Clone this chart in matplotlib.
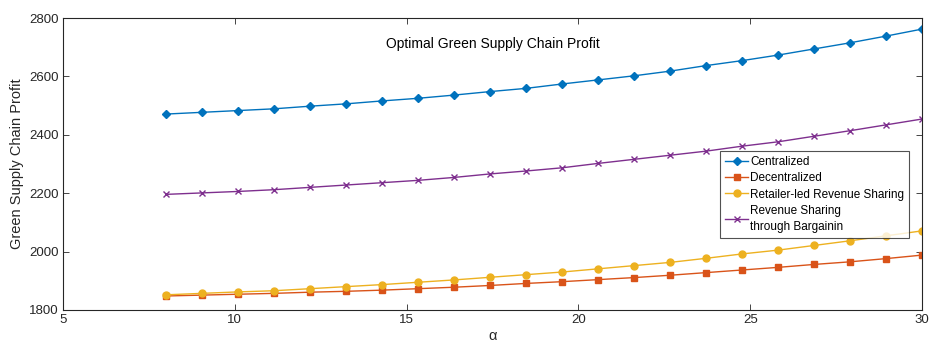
import numpy as np
import matplotlib
matplotlib.use("Agg")
import matplotlib.pyplot as plt

plt.rcParams['font.family'] = ['Liberation Sans', 'DejaVu Sans']

# alpha values (22 evenly spaced points from 8 to 30)
alpha = np.linspace(8, 30, 22)

centralized = [2471, 2477, 2483, 2489, 2498, 2506, 2516, 2525, 2536, 2548, 2559,
               2574, 2588, 2602, 2618, 2637, 2654, 2673, 2694, 2715, 2738, 2762]
decentralized = [1848, 1851, 1854, 1857, 1861, 1864, 1868, 1873, 1878, 1884, 1891,
                 1897, 1904, 1911, 1919, 1928, 1937, 1946, 1956, 1965, 1976, 1988]
retailer_led = [1852, 1857, 1862, 1866, 1873, 1880, 1887, 1895, 1903, 1912, 1921,
                1930, 1941, 1952, 1963, 1977, 1992, 2005, 2021, 2037, 2054, 2071]
bargaining = [2196, 2201, 2206, 2212, 2220, 2228, 2236, 2244, 2254, 2266, 2276,
              2287, 2302, 2316, 2330, 2344, 2361, 2376, 2395, 2414, 2434, 2454]

labels = ["Centralized", "Decentralized", "Retailer-led Revenue Sharing",
          "Revenue Sharing\nthrough Bargainin"]
title = "Optimal Green Supply Chain Profit"
xlabel = "\u03b1"
ylabel = "Green Supply Chain Profit"

fig = plt.figure(figsize=(9.31, 3.43), dpi=100)
ax = fig.add_axes([63 / 931, 1 - 310 / 343, (922 - 63) / 931, (310 - 18) / 343])

ax.plot(alpha, centralized, color='#0072BD', marker='D', markersize=4.5, lw=1.0, label=labels[0])
ax.plot(alpha, decentralized, color='#D95319', marker='s', markersize=4.5, lw=1.0, label=labels[1])
ax.plot(alpha, retailer_led, color='#EDB120', marker='o', markersize=5, lw=1.0, label=labels[2])
ax.plot(alpha, bargaining, color='#7E2F8E', marker='x', markersize=4.5, mew=1.0, lw=1.0, label=labels[3])

ax.set_xlim(5, 30)
ax.set_ylim(1800, 2800)
ax.set_xticks([5, 10, 15, 20, 25, 30])
ax.set_yticks([1800, 2000, 2200, 2400, 2600, 2800])

axis_col = '#262626'
for s in ax.spines.values():
    s.set_color(axis_col)
    s.set_linewidth(0.8)
ax.tick_params(direction='in', top=True, right=True, length=4, width=0.6,
               colors=axis_col, labelsize=9.5, pad=3)

ax.text(0.5, 0.91, title, transform=ax.transAxes, ha='center', va='center',
        fontsize=10, color='black')
ax.set_xlabel(xlabel, fontsize=10.5, labelpad=2, color=axis_col)
ax.set_ylabel(ylabel, fontsize=10.5, labelpad=4, color=axis_col)

leg = ax.legend(loc='upper left', bbox_to_anchor=((720 - 63) / 859, 1 - (151 - 18) / 292),
                fontsize=8.5, frameon=True, fancybox=False, borderpad=0.45,
                handlelength=1.9, handletextpad=0.2, labelspacing=0.35, borderaxespad=0)
for t in leg.get_texts():
    t.set_linespacing(1.45)
leg.get_frame().set_edgecolor(axis_col)
leg.get_frame().set_linewidth(0.8)

fig.savefig("out.png", dpi=100)
